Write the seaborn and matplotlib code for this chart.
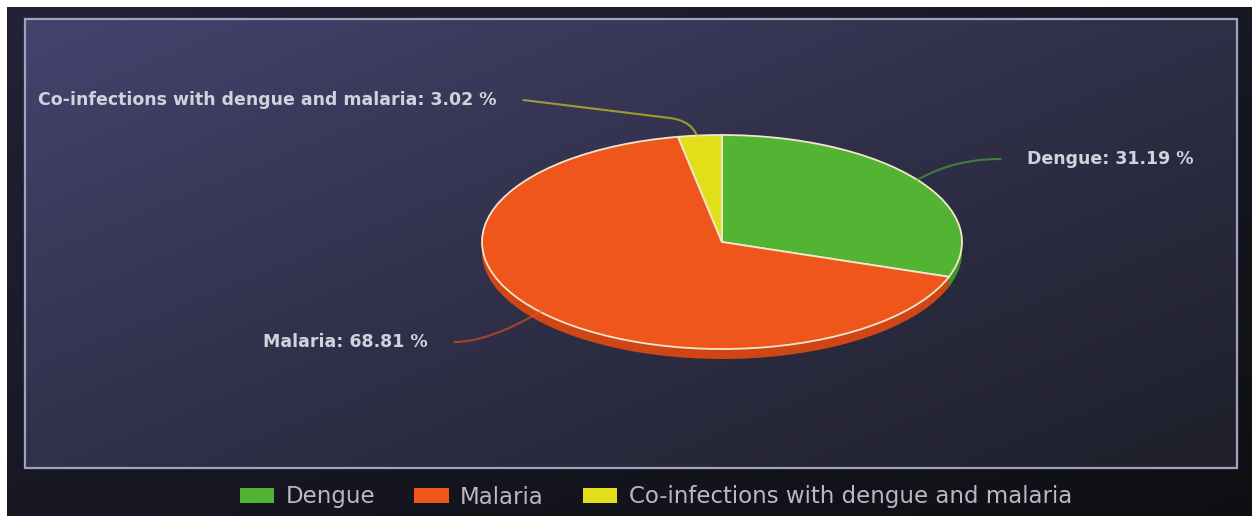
import numpy as np
import matplotlib.pyplot as plt
import seaborn as sns
from matplotlib.patches import Rectangle, Patch

# data
categories = ['Dengue', 'Malaria', 'Co-infections with dengue and malaria']
percentages = [31.19, 68.81, 3.02]
slice_colors = ['#53b434', '#ee561c', '#e2df1a']
side_colors = ['#3f9426', '#cf4514', '#bdb90f']

sns.set_theme(style='dark')
plt.rcParams['font.family'] = ['DejaVu Sans']

W, H = 1252, 516
fig = plt.figure(figsize=(W / 100, H / 100), dpi=100)

# background gradient
bg = fig.add_axes([0, 0, 1, 1])
yy, xx = np.mgrid[0:H, 0:W]
t = (xx / W + yy / H) / 2
stops = np.array([[70, 68, 112], [47, 47, 72], [29, 30, 39]]) / 255
img = np.stack([np.interp(t, [0, 0.5, 1], stops[:, k]) for k in range(3)], axis=-1)
L, R, T, B = 25, 1237, 19, 468
inside = (xx >= L) & (xx <= R) & (yy >= T) & (yy <= B)
outer = img * 0.5
img = np.where(inside[..., None], img, outer)
white = (xx < 7) | (yy < 7)
img[white] = 1.0
bg.imshow(img, aspect='auto', extent=(0, W, H, 0))
bg.set_xlim(0, W)
bg.set_ylim(H, 0)
bg.axis('off')
bg.add_patch(Rectangle((L, T), R - L, B - T, fill=False, edgecolor='#a2a2be', lw=1.6))

# pie axes covering the plot rectangle
ax = fig.add_axes([L / W, 1 - B / H, (R - L) / W, (B - T) / H])
cx, cy, rx, ry = 722, 242, 240, 107
depth = 10 / ry

for d in np.linspace(depth, 0, 14)[:-1]:
    ax.pie(percentages, colors=side_colors, startangle=90, counterclock=False,
           center=(0, -d), wedgeprops=dict(linewidth=0))
wedges, _ = ax.pie(percentages, colors=slice_colors, startangle=90, counterclock=False,
                   wedgeprops=dict(edgecolor='#f2e6cc', linewidth=1.3))

ax.set_aspect('auto')
ax.set_xlim((L - cx) / rx, (R - cx) / rx)
ax.set_ylim((cy - B) / ry, (cy - T) / ry)
ax.axis('off')
ax.patch.set_alpha(0)

# data labels with connectors
label_pos = [(1.271, 0.776, 'left'), (-1.225, -0.935, 'right'), (-0.9375, 1.327, 'right')]
conn_style = ['angle3,angleA=0,angleB=30', 'angle3,angleA=0,angleB=30',
              'angle,angleA=-7,angleB=90,rad=30']
gap = 0.11
for w, cat, pct, col, (lx, ly, ha), cs in zip(wedges, categories, percentages,
                                            slice_colors, label_pos, conn_style):
    mid = np.deg2rad((w.theta1 + w.theta2) / 2)
    anchor = (np.cos(mid), np.sin(mid))
    sx = lx - gap if ha == 'left' else lx + gap
    ax.annotate('', xy=anchor, xytext=(sx, ly),
                arrowprops=dict(arrowstyle='-', color=col, alpha=0.6, lw=1.5,
                                connectionstyle=cs, shrinkA=0, shrinkB=0))
    ax.text(lx, ly, f'{cat}: {pct:.2f} %', ha=ha, va='center', fontsize=12.5,
            fontweight='bold', color='#d2d2dc')

handles = [Patch(facecolor=c, edgecolor='none', label=cat)
           for c, cat in zip(slice_colors, categories)]
fig.legend(handles=handles, loc='center', bbox_to_anchor=(656 / W, 1 - 497 / H),
           ncol=3, frameon=False, fontsize=16.5, labelcolor='#b8b8c8',
           handlelength=1.5, handleheight=0.68, handletextpad=0.5, columnspacing=1.7)

fig.savefig('out.png', dpi=100)
